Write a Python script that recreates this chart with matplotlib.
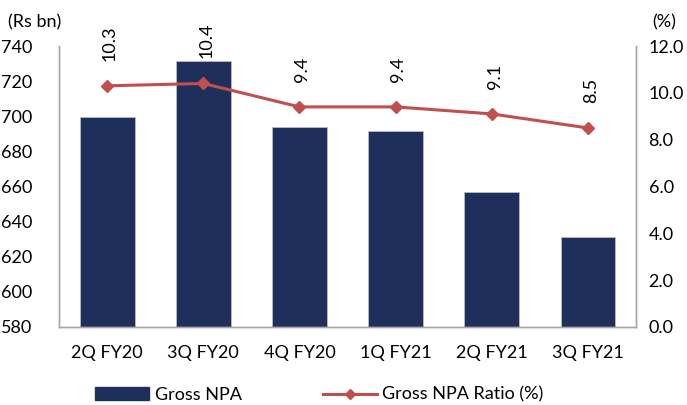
import numpy as np
import matplotlib.pyplot as plt
from matplotlib.lines import Line2D
from matplotlib.patches import Patch

# donnees
quarters = ['2Q FY20', '3Q FY20', '4Q FY20', '1Q FY21', '2Q FY21', '3Q FY21']
gross_npa = [699.5, 731.5, 694, 691.5, 657, 631.5]
npa_ratio = [10.3, 10.4, 9.4, 9.4, 9.1, 8.5]

plt.rcParams['font.family'] = ['Lato', 'DejaVu Sans']

fig = plt.figure(figsize=(6.87, 4.05), dpi=100)
ax = fig.add_axes([0.0859, 0.1926, 0.8399, 0.6938])
ax2 = ax.twinx()

x = np.arange(len(quarters))
ax.bar(x, gross_npa, width=0.57, color='#1E2F5B', edgecolor='#B8BCC8', linewidth=0.6, zorder=2)
ax.set_ylim(580, 740)
ax.set_yticks(np.arange(580, 741, 20))
ax.set_xlim(-0.5, len(quarters) - 0.5)
ax.set_xticks(x)
ax.set_xticklabels(quarters)

ax2.plot(x, npa_ratio, color='#C0504D', linewidth=2.2, marker='D', markersize=6, zorder=3)
ax2.set_ylim(0, 12)
ax2.set_yticks(np.arange(0, 12.1, 2))
ax2.set_yticklabels(['%.1f' % v for v in np.arange(0, 12.1, 2)])

for xi, v in zip(x, npa_ratio):
    ax2.annotate('%.1f' % v, (xi, v), xytext=(2, 18), textcoords='offset points',
                 rotation=90, ha='center', va='bottom', fontsize=13, color='black')

for a in (ax, ax2):
    a.spines['top'].set_visible(False)
    for s in ('left', 'right', 'bottom'):
        a.spines[s].set_color('#A6A6A6')
        a.spines[s].set_linewidth(1)
    a.tick_params(length=0, labelsize=13, colors='black')
ax.tick_params(axis='y', pad=19)
ax2.tick_params(axis='y', pad=9)
ax.tick_params(axis='x', pad=13)

fig.text(0.012, 0.945, '(Rs bn)', fontsize=13, ha='left', va='center')
fig.text(0.950, 0.945, '(%)', fontsize=13, ha='left', va='center')

handles = [Patch(facecolor='#1E2F5B', edgecolor='#1E2F5B'),
           Line2D([0], [0], color='#C0504D', linewidth=2.2, marker='D', markersize=5)]
fig.legend(handles, ['Gross NPA', 'Gross NPA Ratio (%)'], loc='lower center',
           bbox_to_anchor=(0.465, -0.035), ncol=2, frameon=False, fontsize=13,
           columnspacing=4.5, handlelength=3.0, handletextpad=0.3)

fig.savefig('out.png', dpi=100)
